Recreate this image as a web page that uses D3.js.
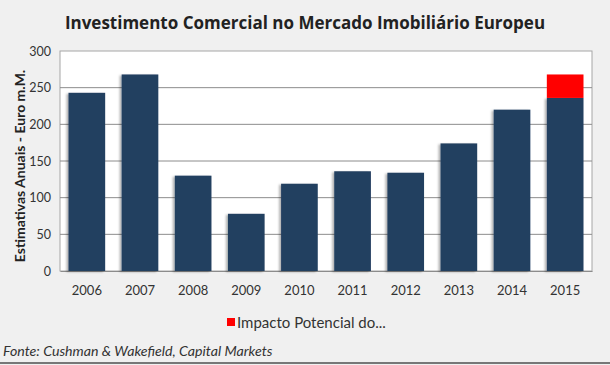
<!DOCTYPE html>
<html>
<head>
<meta charset="utf-8">
<script src="https://cdn.jsdelivr.net/npm/d3@7"></script>
<style>
  body { margin: 0; background: #f0f0f0; }
  svg { display: block; }
</style>
</head>
<body>
<div id="chart"></div>
<script>
// DATA
const years = ["2006", "2007", "2008", "2009", "2010", "2011", "2012", "2013", "2014", "2015"];
const invest = [243, 268, 130, 78, 119, 136, 134, 174, 220, 236];
const impacto = [0, 0, 0, 0, 0, 0, 0, 0, 0, 32];
const yTicks = [0, 50, 100, 150, 200, 250, 300];

const W = 610, H = 365;
const MARGIN = { top: 51, right: 18, bottom: 94, left: 60 };
const WIDTH = W - MARGIN.left - MARGIN.right;
const HEIGHT = H - MARGIN.top - MARGIN.bottom;
const FONT = "'Lato', 'DejaVu Sans', sans-serif";

let svg = d3.select("#chart").append("svg")
  .attr("width", W)
  .attr("height", H);

// soft shadow like the excel bars
let defs = svg.append("defs");
let f = defs.append("filter").attr("id", "shadow")
  .attr("x", "-20%").attr("y", "-5%").attr("width", "140%").attr("height", "110%");
f.append("feDropShadow").attr("dx", -2).attr("dy", 1).attr("stdDeviation", 1.2)
  .attr("flood-color", "#000").attr("flood-opacity", 0.3);

// TITLE
svg.append("text")
  .attr("x", 305).attr("y", 29)
  .attr("text-anchor", "middle")
  .style("font-family", "'Open Sans', sans-serif")
  .style("font-weight", "bold")
  .style("font-size", "17px")
  .style("fill", "#222")
  .text("Investimento Comercial no Mercado Imobiliário Europeu");

let g = svg.append("g").attr("transform", `translate(${MARGIN.left}, ${MARGIN.top})`);

// SCALES
let xScale = d3.scaleBand().domain(years).range([0, WIDTH]).paddingInner(0.31).paddingOuter(0.16);
let yScale = d3.scaleLinear().domain([0, 300]).range([HEIGHT, 0]);

// plot background
g.append("rect")
  .attr("width", WIDTH).attr("height", HEIGHT)
  .attr("fill", "#fff").attr("stroke", "#a6a6a6");

// gridlines
g.append("g").selectAll("line")
  .data(yTicks.slice(1, -1))
  .join("line")
  .attr("x1", 0).attr("x2", WIDTH)
  .attr("y1", d => yScale(d)).attr("y2", d => yScale(d))
  .attr("stroke", "#8c8c8c").attr("stroke-width", 1);

// Y AXIS
let yAxis = g.append("g").call(d3.axisLeft(yScale).tickValues(yTicks).tickSize(0).tickPadding(9));
yAxis.select(".domain").remove();
yAxis.selectAll("text")
  .style("font-family", FONT).style("font-size", "12.5px").style("fill", "#333");

// X AXIS
let xAxis = g.append("g").attr("transform", `translate(0, ${HEIGHT})`)
  .call(d3.axisBottom(xScale).tickSize(0).tickPadding(15));
xAxis.select(".domain").attr("stroke", "#8c8c8c");
xAxis.selectAll("text")
  .style("font-family", FONT).style("font-size", "13px").style("fill", "#333");

// BARS
g.append("g").selectAll("rect")
  .data(years.map((y, i) => ({ year: y, v: invest[i] })))
  .join("rect")
  .attr("x", d => xScale(d.year))
  .attr("y", d => yScale(d.v))
  .attr("width", xScale.bandwidth())
  .attr("height", d => HEIGHT - yScale(d.v))
  .attr("fill", "#243f60")
  .attr("filter", "url(#shadow)");

g.append("g").selectAll("rect")
  .data(years.map((y, i) => ({ year: y, base: invest[i], v: impacto[i] })).filter(d => d.v > 0))
  .join("rect")
  .attr("x", d => xScale(d.year))
  .attr("y", d => yScale(d.base + d.v))
  .attr("width", xScale.bandwidth())
  .attr("height", d => yScale(d.base) - yScale(d.base + d.v))
  .attr("fill", "#ff0000");

// Y AXIS TITLE
svg.append("text")
  .attr("transform", `translate(25, ${MARGIN.top + HEIGHT / 2 + 5}) rotate(-90)`)
  .attr("text-anchor", "middle")
  .style("font-family", FONT)
  .style("font-weight", "bold")
  .style("font-size", "14px")
  .style("fill", "#222")
  .text("Estimativas Anuais - Euro m.M.");

// LEGEND
let leg = svg.append("g").attr("transform", "translate(227, 322)");
leg.append("rect").attr("x", 0).attr("y", -4).attr("width", 8).attr("height", 8).attr("fill", "#ff0000");
leg.append("text").attr("x", 10).attr("y", 5.5)
  .style("font-family", FONT).style("font-size", "15px").style("fill", "#333")
  .text("Impacto Potencial do...");

// SOURCE
svg.append("text")
  .attr("x", 3).attr("y", 356)
  .style("font-family", FONT)
  .style("font-style", "italic")
  .style("font-size", "14.2px")
  .style("fill", "#333")
  .text("Fonte: Cushman & Wakefield, Capital Markets");

svg.append("line")
  .attr("x1", 0).attr("x2", W).attr("y1", 363).attr("y2", 363)
  .attr("stroke", "#777").attr("stroke-width", 2);
</script>
</body>
</html>
